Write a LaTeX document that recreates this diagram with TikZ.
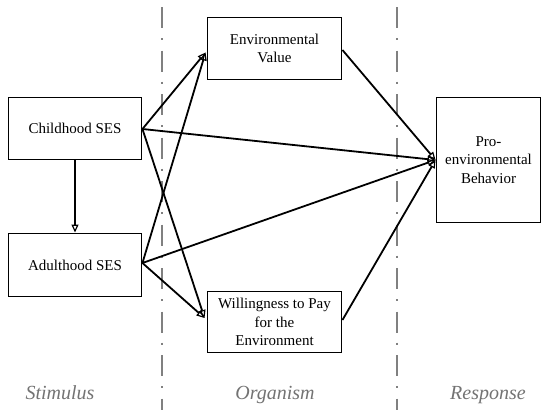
\documentclass[tikz,border=0pt]{standalone}
\usepackage{fontspec}
\setmainfont{Liberation Serif}
\usetikzlibrary{arrows.meta,calc}
\begin{document}
\begin{tikzpicture}[x=1pt,y=-1pt,
  box/.style={draw,line width=1.9pt,align=center,inner sep=0pt,font=\fontsize{15}{18.5}\selectfont},
  link/.style={line width=1.8pt,-{Triangle[open,length=8pt,width=7pt,line width=1.2pt]}},
  sep/.style={draw=black!50,line width=2.4pt,dash pattern=on 21pt off 10pt on 2pt off 10.5pt},
  stage/.style={text=black!55,font=\fontsize{20}{24}\selectfont\itshape,anchor=base}]
\useasboundingbox (0,0) rectangle (550,410);
% separators
\draw[sep] (162,7) -- (162,410);
\draw[sep] (397,7) -- (397,410);
% boxes
\node[box,minimum width=133pt,minimum height=62pt] (cs) at (75,128.5) {Childhood SES};
\node[box,minimum width=133pt,minimum height=63pt] (as) at (75,265) {Adulthood SES};
\node[box,minimum width=134pt,minimum height=62pt] (ev) at (274.5,48.5) {Environmental\\Value};
\node[box,minimum width=134pt,minimum height=61pt] (wtp) at (274.5,322) {Willingness to Pay\\for the\\Environment};
\node[box,minimum width=104pt,minimum height=125pt] (peb) at (488.5,160) {Pro-\\environmental\\Behavior};
% labels
\node[stage] (stim) at (60,399) {Stimulus};
\node[stage] (org) at (275,399) {Organism};
\node[stage] (resp) at (488,399) {Response};
% anchor points
\coordinate (evin) at ($(ev.west)+(-1,4)$);
\coordinate (wtpin) at ($(wtp.west)+(-2,-4)$);
\coordinate (cso) at ($(cs.east)+(0,0.5)$);
\coordinate (aso) at ($(as.east)+(0,-2)$);
\coordinate (evo) at ($(ev.east)+(0,1.5)$);
\coordinate (wtpo) at ($(wtp.east)+(0,-2)$);
% connectors
\draw[link] (cs) -- (as);
\draw[link] (cso) -- (evin);
\draw[link] (cso) -- (wtpin);
\draw[link] (cso) -- (peb.west);
\draw[link] (aso) -- (evin);
\draw[link] (aso) -- (wtpin);
\draw[link] (aso) -- (peb.west);
\draw[link] (evo) -- (peb.west);
\draw[link] (wtpo) -- (peb.west);
\end{tikzpicture}
\end{document}
